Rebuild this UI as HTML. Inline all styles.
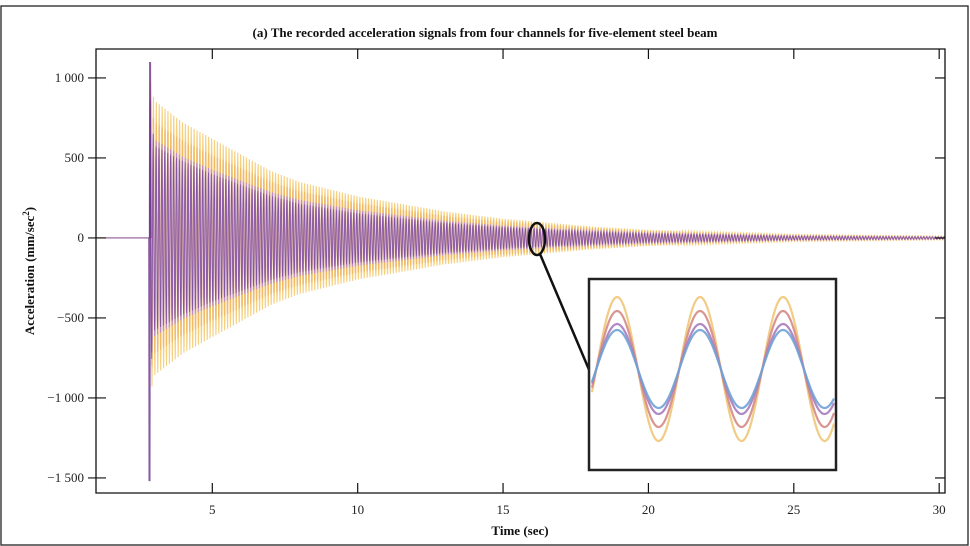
<!DOCTYPE html>
<html><head><meta charset="utf-8"><style>
html,body{margin:0;padding:0;background:#fff;}
svg{display:block;font-family:"Liberation Serif","DejaVu Serif",serif;}
</style></head><body>
<svg id="chart" width="970" height="546" viewBox="0 0 970 546" xmlns="http://www.w3.org/2000/svg">
<rect x="1" y="6" width="967" height="539" fill="#fff" stroke="#222" stroke-width="1.3"/>
<text x="485" y="37" text-anchor="middle" font-size="13" font-weight="bold" fill="#111">(a) The recorded acceleration signals from four channels for five-element steel beam</text>
<g id="series"></g>
<g id="axes"></g>
<text transform="translate(34,271) rotate(-90)" text-anchor="middle" font-size="13" font-weight="bold" fill="#111">Acceleration (mm/sec<tspan font-size="9" dy="-5">2</tspan><tspan dy="5">)</tspan></text>
<text x="520" y="535" text-anchor="middle" font-size="13" font-weight="bold" fill="#111">Time (sec)</text>
<g id="inset"></g>
</svg>
<script>
const xTicks=[5,10,15,20,25,30];
const yTicks=[1000,500,0,-500,-1000,-1500];
const yTickLabels=["1 000","500","0","\u2212500","\u22121 000","\u22121 500"];
const envTimes=[2.85,3.0,4,5,7,8,10,13,15,18,20,25,30.2];
const envYellow=[1000,860,720,620,420,350,260,165,120,72,50,22,12];
const envOrange=[900,740,620,530,360,300,222,140,100,60,42,18,10];
const envPink=[800,620,510,430,290,240,175,108,78,46,32,14,8];
const envPurple=[900,580,480,400,265,215,155,95,68,40,28,12,6];
const seriesColors=["#f4cd78","#eeb35e","#b98ccb","#6e3a8e"];
const seriesNames=["channel-1","channel-2","channel-3","channel-4"];
const seriesOpacity=[0.95,0.75,0.95,0.7];
const freqHz=10.0;
const startTime=2.85;
const insetAmps=[72,58,45,39];
const insetColors=["#f0c777","#d48a86","#a77bbd","#6fa3d6"];

const NS="http://www.w3.org/2000/svg";
const X0=1.0,X1=30.2,Y0=-1594,Y1=1181;
const L=96,R=945,T=49,B=493;
const sx=v=>L+(v-X0)/(X1-X0)*(R-L);
const sy=v=>B-(v-Y0)/(Y1-Y0)*(B-T);
function mk(tag,attrs,parent){const e=document.createElementNS(NS,tag);for(const k in attrs)e.setAttribute(k,attrs[k]);parent.appendChild(e);return e;}
function env(arr,t){if(t<=envTimes[0])return arr[0];for(let i=1;i<envTimes.length;i++){if(t<=envTimes[i]){const f=(t-envTimes[i-1])/(envTimes[i]-envTimes[i-1]);return arr[i-1]+f*(arr[i]-arr[i-1]);}}return arr[arr.length-1];}

const sg=document.getElementById('series');
const envs=[envYellow,envOrange,envPink,envPurple];
envs.forEach((arr,k)=>{
  let d="M"+sx(X0)+","+sy(0)+" L"+sx(startTime)+","+sy(0);
  const dt=1/(freqHz*12);
  for(let t=startTime;t<=30.2;t+=dt){
    const a=env(arr,t);
    const v=a*Math.sin(2*Math.PI*freqHz*(t-startTime)+k*0.2);
    d+=" L"+sx(t).toFixed(2)+","+sy(v).toFixed(2);
  }
  const p=mk('path',{d:d,fill:'none',stroke:seriesColors[k],'stroke-width':k==3?0.8:1.1,'stroke-opacity':seriesOpacity[k]},sg);
  
  
});
const sp=mk('path',{d:"M"+sx(2.83)+","+sy(0)+" L"+sx(2.84)+","+sy(-1520)+" L"+sx(2.86)+","+sy(1100)+" L"+sx(2.88)+","+sy(0),fill:'none',stroke:'#6a2f8a','stroke-width':2,'stroke-opacity':0.8},sg);



const ax=document.getElementById('axes');
const fr=mk('path',{d:`M${L},${T} H${R} V${B} H${L} Z`,fill:'none',stroke:'#111','stroke-width':1.3},ax);


xTicks.forEach(v=>{
  const x=sx(v);
  mk('line',{x1:x,y1:B,x2:x,y2:B-10,stroke:'#111','stroke-width':1.2},ax);
  mk('line',{x1:x,y1:T,x2:x,y2:T+10,stroke:'#111','stroke-width':1.2},ax);
  const t=mk('text',{x:x,y:B+21,'text-anchor':'middle','font-size':13,fill:'#222'},ax);
  t.textContent=v;
  
  
});
yTicks.forEach((v,i)=>{
  const y=sy(v);
  mk('line',{x1:L-8,y1:y,x2:L+10,y2:y,stroke:'#111','stroke-width':1.2},ax);
  mk('line',{x1:R-10,y1:y,x2:R,y2:y,stroke:'#111','stroke-width':1.2},ax);
  const t=mk('text',{x:L-12,y:y+4,'text-anchor':'end','font-size':13,fill:'#222'},ax);
  t.textContent=yTickLabels[i];
  
  
});

const ig=document.getElementById('inset');
const el=mk('ellipse',{cx:537,cy:239,rx:8,ry:16,fill:'none',stroke:'#111','stroke-width':2.5},ig);


mk('line',{x1:540,y1:254,x2:590,y2:372,stroke:'#111','stroke-width':2.5},ig);
const bx=mk('rect',{x:589,y:279,width:247,height:191,fill:'#fff',stroke:'#222','stroke-width':2.5},ig);


insetAmps.forEach((a,k)=>{
  let d="";
  for(let x=592;x<=834;x+=1){
    const v=Math.sin(2*Math.PI*(x-595)/83 - 0.1);
    d+=(d?" L":"M")+x+","+(369-a*v).toFixed(2);
  }
  const p=mk('path',{d:d,fill:'none',stroke:insetColors[k],'stroke-width':2.2,'stroke-opacity':0.9},ig);
  
  
});
</script>
</body></html>
